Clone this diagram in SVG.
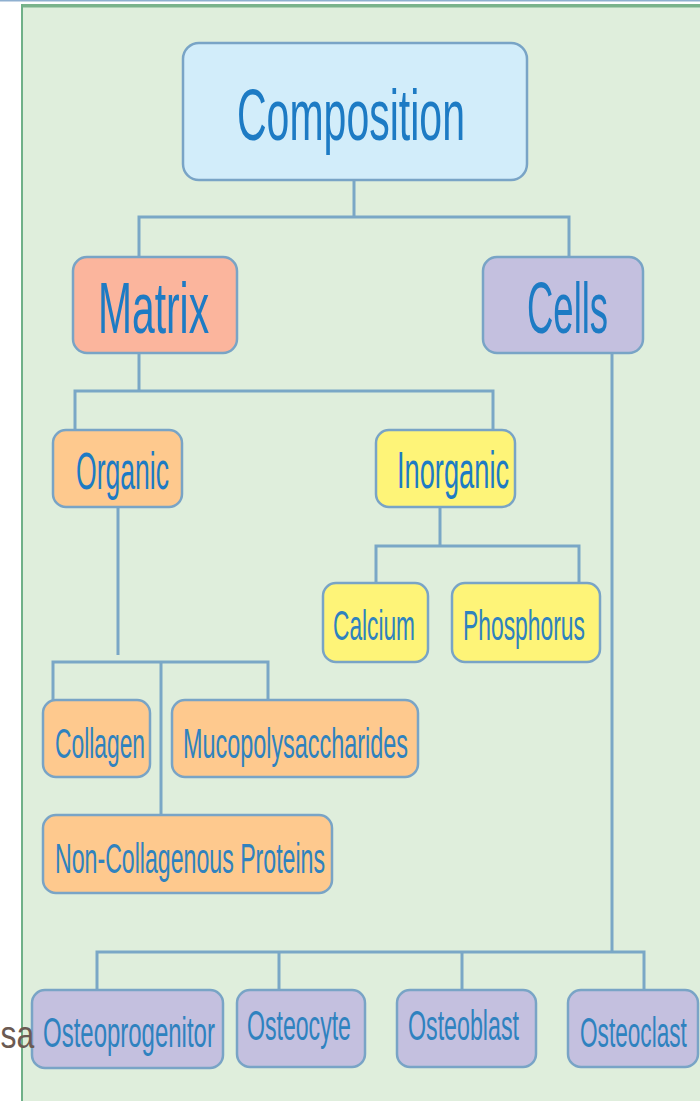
<svg xmlns="http://www.w3.org/2000/svg" width="700" height="1101" viewBox="0 0 700 1101">
<style>
.bx{stroke:#79a4c6;stroke-width:2.5}
.c{fill:#d2edfa}.m{fill:#fbb59d}.p{fill:#c4c0df}.o{fill:#fec98e}.y{fill:#fef478}
.t{font-family:"Liberation Sans",Arial,sans-serif;fill:#1d7bc4}
.big{font-size:73px}.mid{font-size:52px}.sm{font-size:42px;fill:#2f82bf}
.con{fill:none;stroke:#7aa7c6;stroke-width:3}
</style>
<rect x="0" y="0" width="700" height="1101" fill="#ffffff"/>
<rect x="0" y="0" width="700" height="1.5" fill="#8fb0d0"/>
<rect x="21" y="4" width="690" height="1110" fill="#dfeedc"/>
<rect x="21" y="4" width="690" height="3.5" fill="#7ab38c"/>
<rect x="21" y="4" width="2" height="1110" fill="#6fb088"/>
<g id="connectors" class="con">
<path d="M354,180 V217 M139,257 V217 H569 V257"/>
<path d="M139,353 V391 M75,430 V391 H493 V430"/>
<path d="M612,353 V952"/>
<path d="M440,507 V546 M376,583 V546 H579 V583"/>
<path d="M118,507 V655"/>
<path d="M53,700 V662 H268 V700 M161,662 V815"/>
<path d="M97,990 V952 H644 V990 M279,952 V990 M462,952 V990"/>
</g>
<g id="composition"><rect class="bx c" x="183" y="43" width="344" height="137" rx="16"/><text class="t big" transform="translate(237,140) scale(0.562,1)">Composition</text></g>
<g id="matrix"><rect class="bx m" x="73" y="257" width="164" height="96" rx="14"/><text class="t big" transform="translate(98,333) scale(0.559,1)">Matrix</text></g>
<g id="cells"><rect class="bx p" x="483" y="257" width="160" height="96" rx="14"/><text class="t big" transform="translate(527,333) scale(0.5,1)">Cells</text></g>
<g id="organic"><rect class="bx o" x="53" y="430" width="129" height="77" rx="13"/><text class="t mid" transform="translate(76,489) scale(0.511,1)">Organic</text></g>
<g id="inorganic"><rect class="bx y" x="376" y="430" width="139" height="77" rx="13"/><text class="t mid" transform="translate(397,488) scale(0.524,1)">Inorganic</text></g>
<g id="calcium"><rect class="bx y" x="323" y="583" width="105" height="79" rx="13"/><text class="t sm" transform="translate(333,640) scale(0.541,1)">Calcium</text></g>
<g id="phosphorus"><rect class="bx y" x="452" y="583" width="148" height="79" rx="13"/><text class="t sm" transform="translate(463,640) scale(0.544,1)">Phosphorus</text></g>
<g id="collagen"><rect class="bx o" x="43" y="700" width="107" height="77" rx="13"/><text class="t sm" transform="translate(55,758) scale(0.543,1)">Collagen</text></g>
<g id="mucopolysaccharides"><rect class="bx o" x="172" y="700" width="246" height="77" rx="13"/><text class="t sm" transform="translate(183,758) scale(0.557,1)">Mucopolysaccharides</text></g>
<g id="noncollagenous"><rect class="bx o" x="43" y="815" width="289" height="78" rx="13"/><text class="t sm" transform="translate(55,873) scale(0.551,1)">Non-Collagenous Proteins</text></g>
<g id="osteoprogenitor"><rect class="bx p" x="32" y="990" width="191" height="78" rx="13"/><text class="t sm" transform="translate(43,1047) scale(0.571,1)">Osteoprogenitor</text></g>
<g id="osteocyte"><rect class="bx p" x="237" y="990" width="128" height="77" rx="13"/><text class="t sm" transform="translate(247,1040) scale(0.55,1)">Osteocyte</text></g>
<g id="osteoblast"><rect class="bx p" x="397" y="990" width="139" height="77" rx="13"/><text class="t sm" transform="translate(408,1040) scale(0.553,1)">Osteoblast</text></g>
<g id="osteoclast"><rect class="bx p" x="568" y="990" width="130" height="77" rx="13"/><text class="t sm" transform="translate(580,1047) scale(0.539,1)">Osteoclast</text></g>
<text transform="translate(0.5,1048) scale(0.82,1)" font-family="Liberation Sans, Arial, sans-serif" font-size="39" fill="#6b5a52">sa</text>
</svg>
